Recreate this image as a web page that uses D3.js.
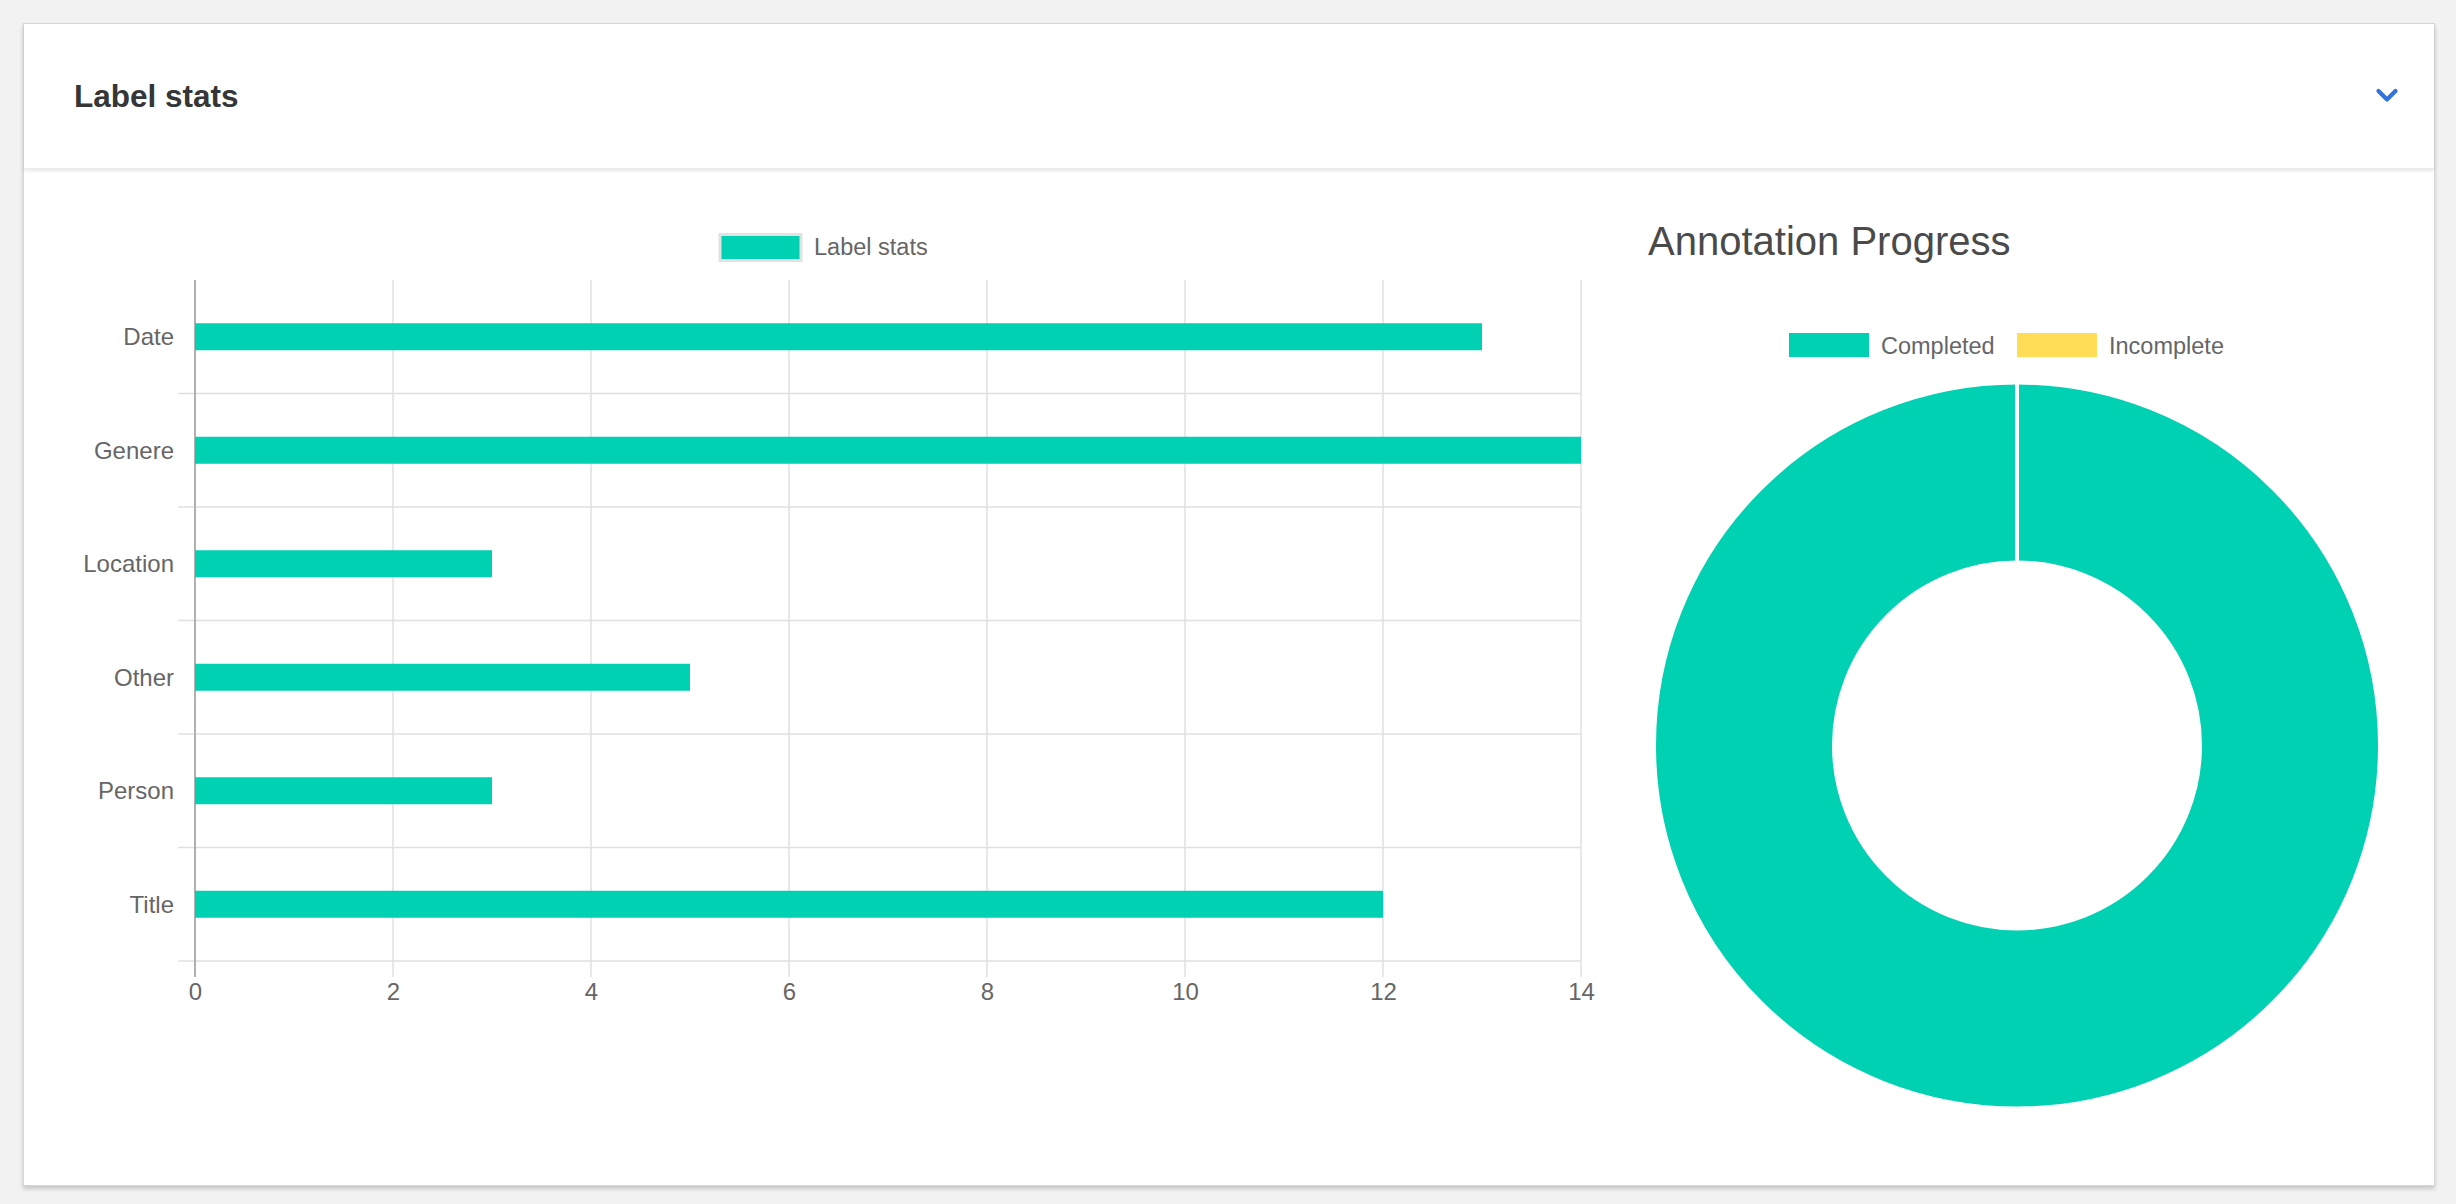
<!DOCTYPE html>
<html>
<head>
<meta charset="utf-8">
<script src="https://cdn.jsdelivr.net/npm/d3@7"></script>
<style>
  html, body { margin: 0; padding: 0; background: #f2f2f2; width: 2456px; height: 1204px; overflow: hidden; }
  #card { position: absolute; left: 23px; top: 23px; width: 2410px; height: 1161px; background: #fff;
          border: 1px solid #d6d6d6; box-shadow: 0 3px 4px rgba(10,10,10,0.18); box-sizing: content-box; }
  #header { position: absolute; left: 0; top: 0; width: 100%; height: 144px; background: #fff;
            box-shadow: 0 2px 3px rgba(10,10,10,0.09); border-bottom: 1px solid #ececec; }
  svg { position: absolute; left: 0; top: 0; }
  text { font-family: "Liberation Sans", Arial, Helvetica, sans-serif; }
</style>
</head>
<body>
<div id="card"><div id="header"></div></div>
<svg id="chart" width="2456" height="1204"></svg>
<script>
// ---- data ----
const categories = ["Date", "Genere", "Location", "Other", "Person", "Title"];
const labelCounts = [13, 14, 3, 5, 3, 12];
const xTicks = [0, 2, 4, 6, 8, 10, 12, 14];
const barSeriesName = "Label stats";

const progressLabels = ["Completed", "Incomplete"];
const progressValues = [100, 0];
const progressColors = ["#00d1b2", "#ffdd57"];

const cardTitle = "Label stats";
const donutTitle = "Annotation Progress";

(function () {
const teal = "#00d1b2";
const svg = d3.select("#chart");

// ---- card header ----
svg.append("text").attr("x", 74).attr("y", 107)
  .attr("font-size", 31.5).attr("font-weight", "bold").attr("fill", "#363636")
  .text(cardTitle);
svg.append("path").attr("d", "M2378.5,91 L2387,99.5 L2395.5,91")
  .attr("fill", "none").attr("stroke", "#3273dc").attr("stroke-width", 4.2)
  .attr("stroke-linecap", "round").attr("stroke-linejoin", "round");

// ---- bar chart ----
const pLeft = 195, pRight = 1581, pTop = 280, pBottom = 961, tickLen = 16;
const x = d3.scaleLinear().domain([0, 14]).range([pLeft, pRight]);
const y = d3.scaleBand().domain(categories).range([pTop, pBottom]);
const barH = 27;

const g = svg.append("g");
// vertical gridlines
g.selectAll("line.vg").data(xTicks.filter(d => d !== 0)).enter().append("line")
  .attr("x1", d => x(d)).attr("x2", d => x(d))
  .attr("y1", pTop).attr("y2", pBottom + tickLen)
  .attr("stroke", "#e0e0e0").attr("stroke-width", 1.5);
// horizontal gridlines (category boundaries)
g.selectAll("line.hg").data(categories).enter().append("line")
  .attr("x1", pLeft - 17).attr("x2", pRight)
  .attr("y1", d => y(d) + y.bandwidth()).attr("y2", d => y(d) + y.bandwidth())
  .attr("stroke", "#e0e0e0").attr("stroke-width", 1.5);
// zero line (y axis)
g.append("line").attr("x1", x(0)).attr("x2", x(0)).attr("y1", pTop).attr("y2", pBottom + tickLen)
  .attr("stroke", "#a8a8a8").attr("stroke-width", 1.8);

// bars
g.selectAll("rect.bar").data(categories).enter().append("rect")
  .attr("x", x(0)).attr("y", (d) => y(d) + y.bandwidth() / 2 - barH / 2)
  .attr("width", (d, i) => x(labelCounts[i]) - x(0))
  .attr("height", barH).attr("fill", teal);

// x axis labels
const xAxis = d3.axisBottom(x).tickValues(xTicks).tickSize(0).tickPadding(0).tickFormat(d3.format("d"));
const xa = svg.append("g").attr("transform", `translate(0,${pBottom})`).call(xAxis);
xa.select(".domain").remove();
xa.selectAll("text").attr("y", 38.5).attr("dy", null).attr("font-size", 24)
  .attr("fill", "#666").attr("font-family", '"Liberation Sans", Arial, sans-serif');

// y axis labels
const yAxis = d3.axisLeft(y).tickSize(0).tickPadding(0);
const ya = svg.append("g").attr("transform", `translate(174,0)`).call(yAxis);
ya.select(".domain").remove();
ya.selectAll("text").attr("font-size", 24).attr("fill", "#666")
  .attr("font-family", '"Liberation Sans", Arial, sans-serif').attr("dy", "0.35em");

// legend
svg.append("rect").attr("x", 720).attr("y", 234.5).attr("width", 81).attr("height", 26)
  .attr("fill", teal).attr("stroke", "#e2e2e2").attr("stroke-width", 3);
svg.append("text").attr("x", 814).attr("y", 255).attr("font-size", 23.5).attr("fill", "#666")
  .text(barSeriesName);

// ---- donut ----
svg.append("text").attr("x", 1648).attr("y", 255).attr("font-size", 40).attr("fill", "#4a4a4a")
  .text(donutTitle);

const legendX = [1789, 2017];
progressLabels.forEach((lab, i) => {
  svg.append("rect").attr("x", legendX[i]).attr("y", 333).attr("width", 80).attr("height", 24)
    .attr("fill", progressColors[i]);
  svg.append("text").attr("x", legendX[i] + 92).attr("y", 353.5).attr("font-size", 23.5)
    .attr("fill", "#666").text(lab);
});

const cx = 2017, cy = 745.5, rOuter = 363, rInner = 183;
const pie = d3.pie().sort(null).value(d => d);
const arc = d3.arc().innerRadius(rInner).outerRadius(rOuter);
svg.append("g").attr("transform", `translate(${cx},${cy})`)
  .selectAll("path").data(pie(progressValues)).enter().append("path")
  .attr("d", arc).attr("fill", (d, i) => progressColors[i])
  .attr("stroke", "#fff").attr("stroke-width", 4).attr("stroke-linejoin", "miter");
})();
</script>
</body>
</html>
